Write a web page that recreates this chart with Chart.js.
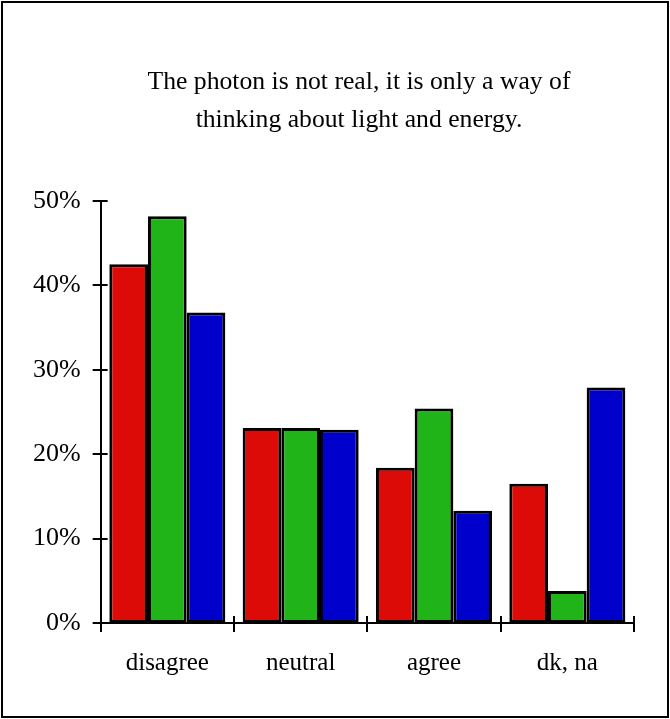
<!DOCTYPE html>
<html lang="en">
<head>
    <meta charset="UTF-8">
    <title>The photon is not real</title>
    <script src="https://cdn.jsdelivr.net/npm/chart.js"></script>
    <style>
        html, body {
            margin: 0;
            padding: 0;
            background: white;
        }

        .frame {
            position: absolute;
            left: 1px;
            top: 1px;
            width: 664px;
            height: 713px;
            border: 2px solid black;
        }

        .title {
            position: absolute;
            left: 48px;
            top: 62px;
            width: 622px;
            text-align: center;
            font-family: "Liberation Serif", "Times New Roman", serif;
            font-size: 25.7px;
            line-height: 38px;
            color: black;
        }

        .container {
            position: absolute;
            left: 0;
            top: 0;
            width: 670px;
            height: 719px;
        }
    </style>
</head>
<body>

    <div class="frame"></div>
    <div class="container">
        <canvas id="photonChart"></canvas>
    </div>
    <div class="title" id="title"></div>

    <script>
        const categories = ['disagree', 'neutral', 'agree', 'dk, na'];
        const redValues = [42.5, 23.1, 18.4, 16.5];
        const greenValues = [48.2, 23.1, 25.4, 3.8];
        const blueValues = [36.8, 22.9, 13.3, 27.9];
        const yTicks = [0, 10, 20, 30, 40, 50];
        const titleLines = ['The photon is not real, it is only a way of', 'thinking about light and energy.'];

        document.getElementById('title').innerHTML = titleLines.join('<br>');

        const serif = '"Liberation Serif", "Times New Roman", serif';
        Chart.defaults.font.family = serif;
        Chart.defaults.color = '#000';

        function barSet(label, values, color) {
            return {
                label: label,
                data: values,
                backgroundColor: color,
                borderColor: '#000',
                borderWidth: 3,
                borderSkipped: false
            };
        }

        // tick marks that cross the axis line, like the original
        const crossTicks = {
            id: 'crossTicks',
            afterDraw(chart) {
                const c = chart.ctx;
                const x = chart.scales.x;
                const y = chart.scales.y;
                const area = chart.chartArea;
                const step = x.getPixelForValue(1) - x.getPixelForValue(0);
                c.save();
                c.strokeStyle = '#000';
                c.lineWidth = 2;
                c.beginPath();
                yTicks.forEach(v => {
                    const py = Math.round(y.getPixelForValue(v));
                    c.moveTo(area.left - 8, py);
                    c.lineTo(area.left + 7, py);
                });
                for (let i = 0; i <= categories.length; i++) {
                    const px = Math.round(x.getPixelForValue(0) - step / 2 + i * step);
                    c.moveTo(px, area.bottom - 7);
                    c.lineTo(px, area.bottom + 9);
                }
                c.stroke();
                c.restore();
            }
        };

        const ctx = document.getElementById('photonChart').getContext('2d');

        new Chart(ctx, {
            type: 'bar',
            data: {
                labels: categories,
                datasets: [
                    barSet('red', redValues, '#dd0b08'),
                    barSet('green', greenValues, '#20b418'),
                    barSet('blue', blueValues, '#0000cc')
                ]
            },
            options: {
                responsive: true,
                maintainAspectRatio: false,
                animation: false,
                categoryPercentage: 0.87,
                barPercentage: 1.0,
                layout: {
                    padding: { left: 21, right: 36, top: 201, bottom: 24 }
                },
                plugins: {
                    legend: { display: false },
                    tooltip: { enabled: false },
                    title: { display: false }
                },
                scales: {
                    x: {
                        grid: { display: false },
                        border: { color: '#000', width: 2 },
                        ticks: {
                            font: { size: 25 },
                            color: '#000',
                            padding: 17
                        }
                    },
                    y: {
                        min: 0,
                        max: 50,
                        afterBuildTicks: function (scale) {
                            scale.ticks = yTicks.map(v => ({ value: v }));
                        },
                        grid: { display: false },
                        border: { color: '#000', width: 2 },
                        ticks: {
                            font: { size: 26 },
                            color: '#000',
                            padding: 12,
                            callback: v => v + '%'
                        }
                    }
                }
            },
            plugins: [crossTicks]
        });
    </script>

</body>
</html>
